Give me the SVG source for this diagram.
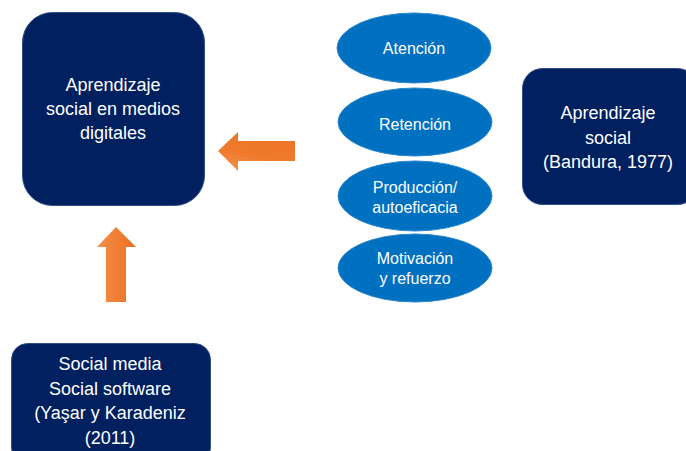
<svg xmlns="http://www.w3.org/2000/svg" width="686" height="451" viewBox="0 0 686 451">
<style>
.box{fill:#002060;stroke:#2f4f86;stroke-width:1}
.ell{fill:#0070c0;stroke:#2a86cc;stroke-width:1}
.t{font-family:"Liberation Sans",Arial,sans-serif;fill:#ffffff;text-anchor:middle}
.tb{font-size:18px}
.te{font-size:16px}
</style>
<defs>
<linearGradient id="gh" x1="0" y1="1" x2="0.4" y2="0">
<stop offset="0" stop-color="#f49352"/>
<stop offset="0.5" stop-color="#ef7a2c"/>
<stop offset="1" stop-color="#ed7526"/>
</linearGradient>
<linearGradient id="gv" x1="0" y1="0" x2="1" y2="0">
<stop offset="0" stop-color="#f4904a"/>
<stop offset="1" stop-color="#eb6f1f"/>
</linearGradient>
</defs>
<rect width="686" height="451" fill="#ffffff"/>
<g id="connectors">
<polygon points="218,151 238,132 238,141 295,141 295,161 238,161 238,171" fill="url(#gh)"/>
<polygon points="116,227 136,247 126,247 126,302 106,302 106,247 97,247" fill="url(#gv)"/>
</g>
<g id="node-digital">
<rect class="box" x="22.5" y="12.5" width="182" height="193" rx="30"/>
<text class="t tb" x="113" y="91">Aprendizaje</text>
<text class="t tb" x="113" y="115">social en medios</text>
<text class="t tb" x="113" y="139">digitales</text>
</g>
<g id="node-atencion">
<ellipse class="ell" cx="414" cy="48" rx="77" ry="35"/>
<text class="t te" x="414" y="54">Atención</text>
</g>
<g id="node-retencion">
<ellipse class="ell" cx="415" cy="122" rx="77" ry="34"/>
<text class="t te" x="415" y="130">Retención</text>
</g>
<g id="node-produccion">
<ellipse class="ell" cx="415" cy="196" rx="77" ry="35"/>
<text class="t te" x="415" y="193">Producción/</text>
<text class="t te" x="415" y="213">autoeficacia</text>
</g>
<g id="node-motivacion">
<ellipse class="ell" cx="415" cy="268" rx="77" ry="34"/>
<text class="t te" x="415" y="264">Motivación</text>
<text class="t te" x="415" y="284">y refuerzo</text>
</g>
<g id="node-bandura">
<rect class="box" x="522.5" y="68.5" width="175" height="136" rx="20"/>
<text class="t tb" x="608" y="119">Aprendizaje</text>
<text class="t tb" x="608" y="144">social</text>
<text class="t tb" x="608" y="168">(Bandura, 1977)</text>
</g>
<g id="node-socialmedia">
<rect class="box" x="11.5" y="343.5" width="199" height="120" rx="16"/>
<text class="t tb" x="110" y="370">Social media</text>
<text class="t tb" x="110" y="395">Social software</text>
<text class="t tb" x="110" y="419">(Yaşar y Karadeniz</text>
<text class="t tb" x="110" y="444">(2011)</text>
</g>
</svg>
